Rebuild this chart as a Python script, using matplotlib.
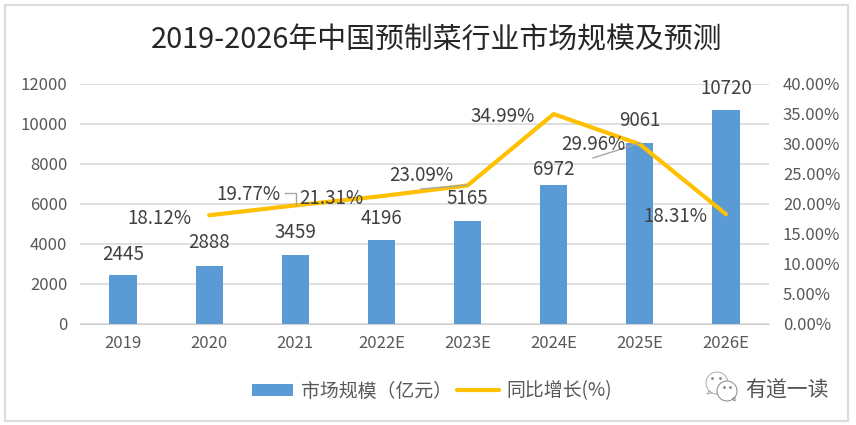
import numpy as np
import matplotlib
matplotlib.use('Agg')
import matplotlib.pyplot as plt
from matplotlib.patches import Rectangle, Circle, Polygon

plt.rcParams['font.family'] = ['Noto Sans CJK SC', 'DejaVu Sans']

years = ['2019', '2020', '2021', '2022E', '2023E', '2024E', '2025E', '2026E']
market = [2445, 2888, 3459, 4196, 5165, 6972, 9061, 10720]
growth = [None, 18.12, 19.77, 21.31, 23.09, 34.99, 29.96, 18.31]
left_ticks = [0, 2000, 4000, 6000, 8000, 10000, 12000]
right_ticks = [0, 5, 10, 15, 20, 25, 30, 35, 40]

W, H = 856, 425
fig = plt.figure(figsize=(W / 100, H / 100), dpi=100, facecolor='white')

# pixel helper, y measured from the top
def px(x, y):
    return x / W, 1 - y / H

fig.add_artist(Rectangle((5 / W, 1 - 421 / H), 843 / W, 416 / H, transform=fig.transFigure,
                         fill=False, edgecolor='#dcdcdc', linewidth=1.6))

ax = fig.add_axes([80 / W, 1 - 324 / H, 689 / W, 240 / H])
x = np.arange(len(years))
bars = ax.bar(x, market, width=0.315, color='#5b9bd5', label='市场规模（亿元）', zorder=2)
ax.set_xlim(-0.5, 7.5)
ax.set_ylim(0, 12000)
ax.set_yticks(left_ticks)
ax.set_xticks(x)
ax.set_xticklabels(years)
ax.tick_params(axis='both', length=0, labelsize=12, labelcolor='#595959')
ax.tick_params(axis='x', pad=8)
ax.tick_params(axis='y', pad=9)
ax.grid(axis='y', color='#d9d9d9', linewidth=1.2, zorder=0)
ax.set_axisbelow(True)
for s in ['top', 'left', 'right']:
    ax.spines[s].set_visible(False)
ax.spines['bottom'].set_color('#d0d0d0')

ax2 = ax.twinx()
line, = ax2.plot(x[1:], growth[1:], color='#ffc000', linewidth=3.0, label='同比增长(%)',
                 solid_capstyle='round', solid_joinstyle='miter', zorder=4)
ax2.set_ylim(0, 40)
ax2.set_yticks(right_ticks)
ax2.set_yticklabels(['%.2f%%' % t for t in right_ticks])
ax2.tick_params(axis='y', length=0, labelsize=12, labelcolor='#595959', pad=10)
for s in ax2.spines.values():
    s.set_visible(False)

# label centres in pixels, placed by hand as in the original chart
bar_label_y = [254, 243, 232, 219, 199, 169, 121, 89]
for i, v in enumerate(market):
    bx = ax.transData.transform((x[i], 0))[0]
    fx, fy = px(bx, bar_label_y[i])
    fig.text(bx / W, fy, str(v), ha='center', va='center', fontsize=13.5, color='#404040', zorder=6)

pct_pos = [(159, 219), (248, 195), (331, 199), (421, 176), (503, 117), (593, 145), (675, 217)]
for (lx, ly), g in zip(pct_pos, growth[1:]):
    fx, fy = px(lx, ly)
    fig.text(fx, fy, '%.2f%%' % g, ha='center', va='center', fontsize=13.5, color='#404040', zorder=6)

# leader lines
leaders = [([285, 296, 296], [193, 193, 205]), ([421, 467], [189, 185]), ([593, 640], [158, 143])]
for lx, ly in leaders:
    fig.add_artist(plt.Line2D([a / W for a in lx], [1 - b / H for b in ly], color='#a6a6a6', linewidth=1))

fig.text(*px(437, 40), '2019-2026年中国预制菜行业市场规模及预测', ha='center', va='center',
         fontsize=20.8, color='#262626')

# legend
fig.legend(handles=[bars, line], loc='center', bbox_to_anchor=px(432, 391), ncol=2, frameon=False,
           fontsize=13.6, labelcolor='#595959', columnspacing=0.28, handletextpad=0.4,
           handlelength=2.2, handleheight=0.65, borderpad=0, borderaxespad=0)

# watermark
wm = fig.add_axes([0, 0, 1, 1], facecolor='none')
wm.set_xlim(0, W)
wm.set_ylim(H, 0)
wm.axis('off')
wm.add_patch(Circle((717, 383), 11, fill=False, edgecolor='#aaaaaa', linewidth=0.7))
wm.add_patch(Polygon([(709, 391), (707, 394), (712, 393)], fill=False, edgecolor='#aaaaaa', linewidth=0.7))
wm.add_patch(Circle((727, 391), 10, facecolor='white', edgecolor='#888888', linewidth=0.7))
wm.add_patch(Polygon([(732, 399), (735, 401), (735, 397)], fill=False, edgecolor='#888888', linewidth=0.7))
wm.plot([712, 720, 724, 730], [378, 378, 387, 387], ls='none', marker='o', ms=1, color='#888888')
fig.text(*px(787, 391), '有道一读', ha='center', va='center', fontsize=15, color='#555555',
         fontweight='light')

fig.savefig('out.png', dpi=100)
